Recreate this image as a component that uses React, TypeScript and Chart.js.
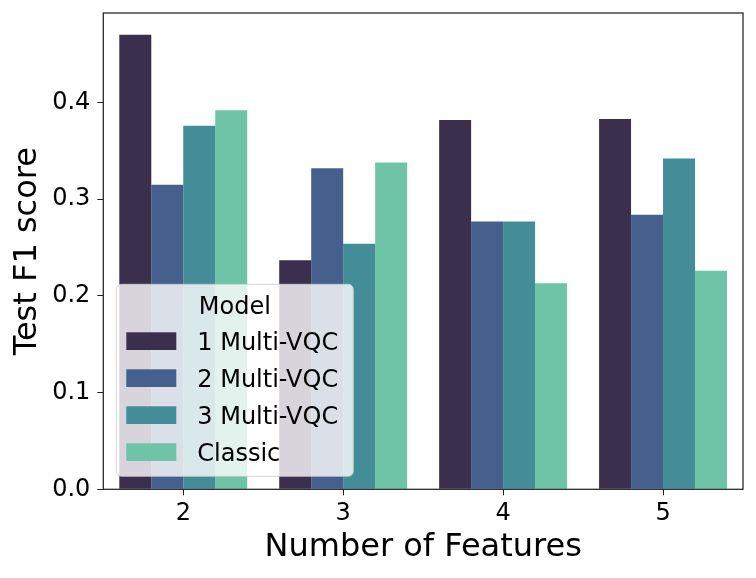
import React, { useEffect, useRef } from 'react';
import { Chart, registerables } from 'chart.js';

Chart.register(...registerables);

const featureCounts = ['2', '3', '4', '5'];
const modelNames = ['1 Multi-VQC', '2 Multi-VQC', '3 Multi-VQC', 'Classic'];
const oneVqc = [0.470, 0.237, 0.382, 0.383];
const twoVqc = [0.315, 0.332, 0.277, 0.284];
const threeVqc = [0.376, 0.254, 0.277, 0.342];
const classic = [0.392, 0.338, 0.213, 0.226];
const yTickValues = [0.0, 0.1, 0.2, 0.3, 0.4];
const palette = ['#3b2f4e', '#46608e', '#438d99', '#6fc3a7'];

const FONT = "'DejaVu Sans', sans-serif";

// box around the plot, like matplotlib spines
const framePlugin = {
  id: 'frame',
  afterDraw(chart: Chart) {
    const { ctx, chartArea } = chart;
    ctx.save();
    ctx.strokeStyle = '#222';
    ctx.lineWidth = 1.25;
    ctx.strokeRect(chartArea.left, chartArea.top, chartArea.right - chartArea.left, chartArea.bottom - chartArea.top);
    ctx.restore();
  },
};

// legend drawn inside the plot, lower left
const insideLegend = {
  id: 'insideLegend',
  afterDraw(chart: Chart) {
    const { ctx, chartArea } = chart;
    const x = chartArea.left + 13;
    const w = 237;
    const h = 192;
    const y = chartArea.bottom - 13 - h;
    ctx.save();
    ctx.beginPath();
    ctx.roundRect(x, y, w, h, 5);
    ctx.fillStyle = 'rgba(255,255,255,0.8)';
    ctx.fill();
    ctx.strokeStyle = 'rgba(204,204,204,0.8)';
    ctx.lineWidth = 1;
    ctx.stroke();

    ctx.font = `24px ${FONT}`;
    ctx.fillStyle = '#000';
    ctx.textAlign = 'center';
    ctx.textBaseline = 'alphabetic';
    ctx.fillText('Model', x + w / 2, y + 30);

    ctx.textAlign = 'left';
    chart.data.datasets.forEach((ds, i) => {
      const top = y + 48 + i * 37;
      ctx.fillStyle = ds.backgroundColor as string;
      ctx.fillRect(x + 10, top, 50, 17.7);
      ctx.fillStyle = '#000';
      ctx.fillText(ds.label as string, x + 81, top + 17.7);
    });
    ctx.restore();
  },
};

const App: React.FC = () => {
  const canvasRef = useRef<HTMLCanvasElement | null>(null);
  const chartRef = useRef<Chart | null>(null);

  useEffect(() => {
    document.body.style.margin = '0';
    if (!canvasRef.current) return;
    if (chartRef.current) chartRef.current.destroy();

    const series = [oneVqc, twoVqc, threeVqc, classic];

    chartRef.current = new Chart(canvasRef.current, {
      type: 'bar',
      data: {
        labels: featureCounts,
        datasets: series.map((values, i) => ({
          label: modelNames[i],
          data: values,
          backgroundColor: palette[i],
          borderWidth: 0,
          categoryPercentage: 0.8,
          barPercentage: 1.0,
        })),
      },
      options: {
        animation: false,
        responsive: true,
        maintainAspectRatio: false,
        layout: { padding: { top: 13, right: 13, left: 0, bottom: 0 } },
        plugins: {
          legend: { display: false },
          tooltip: { enabled: false },
        },
        scales: {
          x: {
            offset: true,
            grid: {
              display: true,
              offset: false,
              drawOnChartArea: false,
              drawTicks: true,
              tickLength: 6,
              color: '#222',
            },
            border: { display: false },
            ticks: {
              color: '#000',
              font: { family: FONT, size: 24 },
              padding: 4,
            },
            title: {
              display: true,
              text: 'Number of Features',
              color: '#000',
              font: { family: FONT, size: 32 },
              padding: { top: 0, bottom: 11 },
            },
            afterFit(scale: any) {
              scale.height = 88.7;
              scale.paddingLeft = 0;
              scale.paddingRight = 0;
            },
          },
          y: {
            min: 0,
            max: 0.4926,
            grid: {
              display: true,
              drawOnChartArea: false,
              drawTicks: true,
              tickLength: 6,
              color: '#222',
            },
            border: { display: false },
            afterBuildTicks(scale: any) {
              scale.ticks = yTickValues.map((v) => ({ value: v }));
            },
            ticks: {
              color: '#000',
              font: { family: FONT, size: 24 },
              padding: 7,
              callback: (v: any) => Number(v).toFixed(1),
            },
            title: {
              display: true,
              text: 'Test F1 score',
              color: '#000',
              font: { family: FONT, size: 32 },
              padding: { top: 8, bottom: 0 },
            },
            afterFit(scale: any) {
              scale.width = 103.3;
              scale.paddingTop = 0;
              scale.paddingBottom = 0;
            },
          },
        },
      },
      plugins: [framePlugin, insideLegend],
    });

    return () => {
      if (chartRef.current) {
        chartRef.current.destroy();
        chartRef.current = null;
      }
    };
  }, []);

  return (
    <div style={{ width: 756, height: 578, position: 'relative', background: '#fff' }}>
      <canvas ref={canvasRef} />
    </div>
  );
};

export default App;
